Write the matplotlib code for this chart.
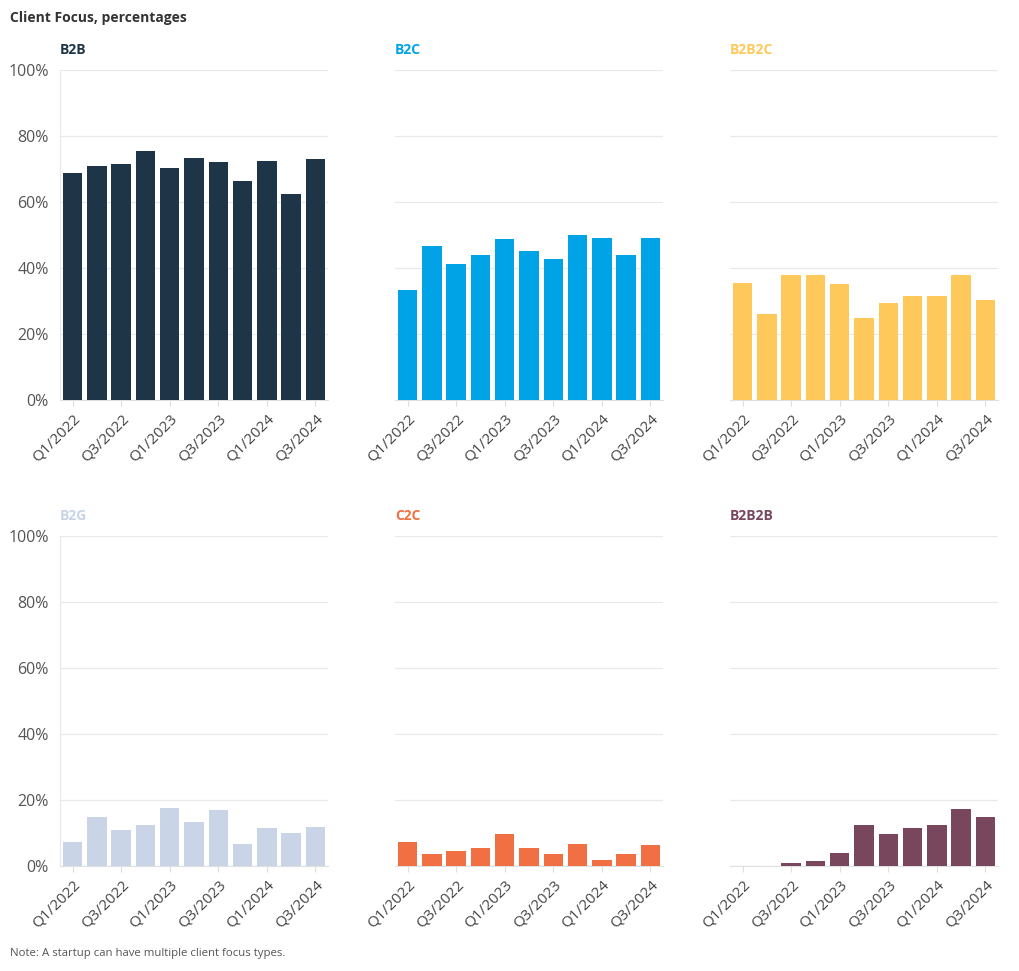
import matplotlib
matplotlib.use("Agg")
import matplotlib.pyplot as plt
import numpy as np

plt.rcParams['font.family'] = ['Open Sans', 'DejaVu Sans']

quarters = ["Q1/2022", "Q2/2022", "Q3/2022", "Q4/2022", "Q1/2023", "Q2/2023",
            "Q3/2023", "Q4/2023", "Q1/2024", "Q2/2024", "Q3/2024"]

b2b = [68.8, 70.9, 71.5, 75.5, 70.3, 73.3, 72.1, 66.4, 72.4, 62.4, 73.0]
b2c = [33.2, 46.7, 41.2, 44.0, 48.7, 45.2, 42.6, 49.9, 49.0, 43.9, 49.1]
b2b2c = [35.5, 26.1, 37.9, 37.9, 35.2, 24.8, 29.4, 31.5, 31.5, 37.9, 30.3]
b2g = [7.3, 14.8, 10.9, 12.4, 17.6, 13.3, 17.0, 6.7, 11.5, 10.0, 11.8]
c2c = [7.2, 3.6, 4.5, 5.5, 9.6, 5.4, 3.5, 6.8, 1.7, 3.5, 6.3]
b2b2b = [0.0, 0.0, 0.8, 1.5, 3.9, 12.4, 9.7, 11.6, 12.4, 17.3, 14.9]

series = [
    ("B2B", b2b, "#1d3547"),
    ("B2C", b2c, "#00a3e6"),
    ("B2B2C", b2b2c, "#ffc85a"),
    ("B2G", b2g, "#c9d4e6"),
    ("C2C", c2c, "#f07043"),
    ("B2B2B", b2b2b, "#78475e"),
]

W, H = 1020, 971
fig = plt.figure(figsize=(W / 100, H / 100), dpi=100)

lefts = [60, 395, 730]
tops = [70, 536]
aw, ah = 268, 330

x = np.arange(len(quarters))
for i, (name, vals, col) in enumerate(series):
    r, c = divmod(i, 3)
    l = lefts[c]
    t = tops[r]
    ax = fig.add_axes([l / W, (H - t - ah) / H, aw / W, ah / H])
    ax.bar(x, vals, width=0.8, color=col, zorder=3)
    ax.set_xlim(-0.52, 10.52)
    ax.set_ylim(0, 100)
    ax.set_yticks([0, 20, 40, 60, 80, 100])
    ax.grid(axis='y', color='#e9e9e9', linewidth=0.9, zorder=0)
    ax.set_xticks(x[::2])
    ax.set_xticklabels(quarters[::2], rotation=45, ha='right', rotation_mode='anchor',
                       fontsize=11, color='#444444')
    ax.tick_params(axis='x', length=4, color='#dddddd', pad=4)
    if c == 0:
        ax.set_yticklabels([f"{v}%" for v in [0, 20, 40, 60, 80, 100]],
                           fontsize=11.5, color='#555555')
        ax.spines['left'].set_visible(True)
        ax.spines['left'].set_color('#e9e9e9')
    else:
        ax.set_yticklabels([])
        ax.spines['left'].set_visible(False)
    ax.tick_params(axis='y', length=0, pad=8)
    for s in ['top', 'right']:
        ax.spines[s].set_visible(False)
    ax.spines['bottom'].set_color('#e0e0e0')
    fig.text(l / W, (H - t + 20) / H, name, fontsize=10,
             fontweight='bold', color=col, va='center', ha='left')

fig.text(10 / W, (H - 18) / H, "Client Focus, percentages", fontsize=10,
         fontweight='bold', color='#333333', va='center', ha='left')
fig.text(10 / W, (H - 953) / H, "Note: A startup can have multiple client focus types.",
         fontsize=8.2, color='#555555', va='center', ha='left')

fig.savefig("out.png", dpi=100)
